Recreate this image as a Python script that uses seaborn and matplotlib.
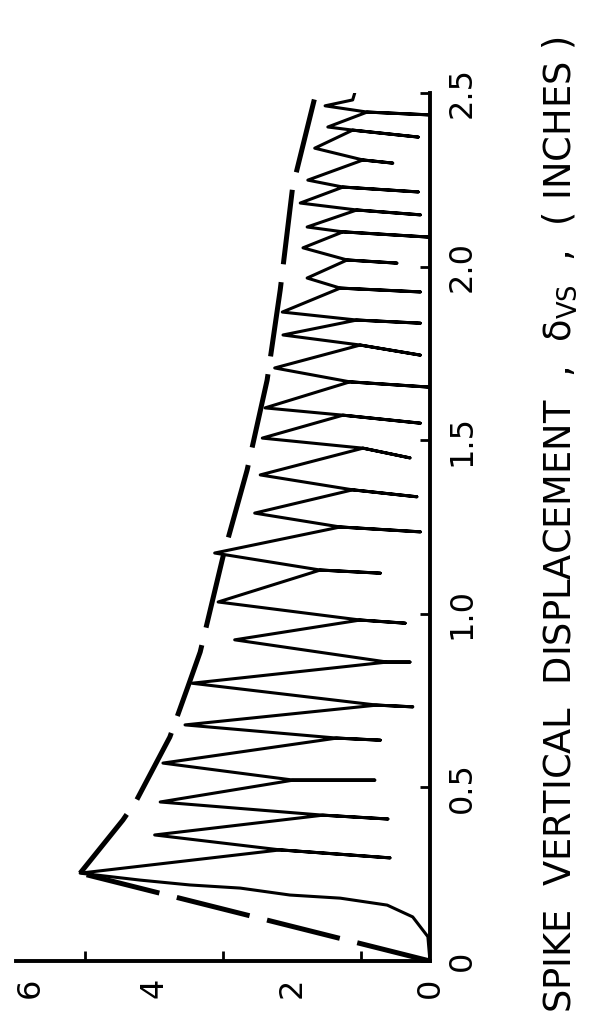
import matplotlib
matplotlib.use("Agg")
import matplotlib.pyplot as plt
import seaborn as sns
import pandas as pd

# values: force on the horizontal axis, spike displacement (in) up the page

# initial loading curve from the origin up to the first peak
load_force = [0.0, 0.03, 0.25, 0.62, 1.30, 2.03, 2.75, 3.48, 4.20]
load_disp = [0.0, 0.07, 0.127, 0.161, 0.181, 0.190, 0.210, 0.219, 0.233]

# peaks (left tips of the saw teeth)
peak_force = [5.07, 3.99, 3.91, 3.87, 3.55, 3.45, 2.83, 3.07, 3.12, 2.54, 2.46, 2.43,
              2.39, 2.25, 2.13, 2.14, 1.78, 1.84, 1.78, 1.88, 1.77, 1.67, 1.48, 1.52]
peak_disp = [0.253, 0.363, 0.458, 0.570, 0.680, 0.800, 0.925, 1.034, 1.175, 1.290, 1.400, 1.506,
             1.593, 1.708, 1.803, 1.869, 1.967, 2.054, 2.114, 2.183, 2.249, 2.341, 2.402, 2.463]

# junctions where the drop meets the reload
junc_force = [2.17, 1.55, 1.98, 1.35, 0.77, 0.62, 1.01, 1.59, 1.30, 1.12, 0.97, 1.26,
              1.16, 1.01, 1.06, 1.30, 1.20, 1.26, 1.06, 1.26, 0.97, 1.12, 0.91]
junc_disp = [0.320, 0.420, 0.521, 0.642, 0.737, 0.861, 0.982, 1.126, 1.250, 1.357, 1.477, 1.572,
             1.668, 1.774, 1.846, 1.938, 2.019, 2.100, 2.163, 2.229, 2.307, 2.393, 2.445]

# lowest force reached on each drop (end of the tail)
tail_force = [0.58, 0.61, 0.80, 0.72, 0.25, 0.29, 0.36, 0.72, 0.14, 0.19, 0.29, 0.14,
              0.02, 0.14, 0.14, 0.14, 0.48, 0.02, 0.14, 0.17, 0.54, 0.17, 0.02]
tail_disp = [0.297, 0.409, 0.521, 0.636, 0.732, 0.861, 0.973, 1.117, 1.236, 1.337, 1.449, 1.549,
             1.653, 1.745, 1.837, 1.927, 2.010, 2.085, 2.149, 2.215, 2.298, 2.373, 2.437]

# last bit after the final peak
end_force = [1.12, 1.09]
end_disp = [2.48, 2.50]

# dashed envelope: straight rise, then the decaying peak envelope
rise_force = [0.0, 5.07]
rise_disp = [0.0, 0.253]
env_force = [5.07, 4.45, 4.25, 3.77, 3.51, 3.33, 3.00, 2.65, 2.36, 2.17, 1.99, 1.67]
env_disp = [0.253, 0.406, 0.464, 0.645, 0.789, 0.890, 1.164, 1.414, 1.673, 1.933, 2.229, 2.486]

force_marks = [1, 2, 3, 4, 5]
force_label_pos = [0, 2, 4, 5.8]
force_labels = ["0", "2", "4", "6"]
disp_ticks = [0, 0.5, 1.0, 1.5, 2.0, 2.5]
disp_labels = ["0", "0.5", "1.0", "1.5", "2.0", "2.5"]

sns.set_theme(style="white")
plt.rcParams['font.family'] = ['DejaVu Sans']

# one trace: peak -> junction -> tail end -> back to junction -> next peak
trace_f = list(load_force)
trace_d = list(load_disp)
for i in range(len(junc_force)):
    trace_f += [peak_force[i], junc_force[i], tail_force[i], junc_force[i]]
    trace_d += [peak_disp[i], junc_disp[i], tail_disp[i], junc_disp[i]]
trace_f += [peak_force[-1]] + end_force
trace_d += [peak_disp[-1]] + end_disp
trace = pd.DataFrame({"force": trace_f, "disp": trace_d})

rise = pd.DataFrame({"force": rise_force, "disp": rise_disp})
env = pd.DataFrame({"force": env_force, "disp": env_disp})

fig = plt.figure(figsize=(5.96, 10.15), dpi=100)
ax = fig.add_axes([0.0268, 0.0532, 0.6946, 0.8552])

sns.lineplot(data=trace, x="force", y="disp", sort=False, estimator=None,
             color="black", lw=2.2, ax=ax)
for part in [rise, env]:
    sns.lineplot(data=part, x="force", y="disp", sort=False, estimator=None,
                 color="black", lw=3.6, linestyle=(0, (15, 3.6)), ax=ax)

ax.set_xlim(6, 0)
ax.set_ylim(0, 2.5)
ax.set_xlabel("")
ax.set_ylabel("")

for s in ["top", "left"]:
    ax.spines[s].set_visible(False)
for s in ["bottom", "right"]:
    ax.spines[s].set_color("black")
    ax.spines[s].set_linewidth(2.8)

# force axis: labels on major ticks (no mark), small marks on minor ticks
ax.set_xticks(force_label_pos)
ax.set_xticklabels(force_labels, rotation=90)
ax.set_xticks(force_marks, minor=True)
ax.tick_params(axis="x", which="major", bottom=True, top=False, length=0, pad=12,
               labelsize=23, labelcolor="black")
ax.tick_params(axis="x", which="minor", bottom=True, top=False, direction="in",
               length=7, width=2, color="black")

ax.set_yticks(disp_ticks)
ax.set_yticklabels(disp_labels, rotation=90, va="center")
ax.tick_params(axis="y", which="major", left=False, right=True, labelleft=False,
               labelright=True, direction="in", length=7, width=2, color="black",
               pad=12, labelsize=23, labelcolor="black")

fig.text(0.9396, 0.4828, r"SPIKE  VERTICAL  DISPLACEMENT  ,  δ$_{\mathrm{VS}}$  ,  ( INCHES )",
         rotation=90, ha="center", va="center", fontsize=26.5, color="black")

fig.savefig("out.png", dpi=100)
